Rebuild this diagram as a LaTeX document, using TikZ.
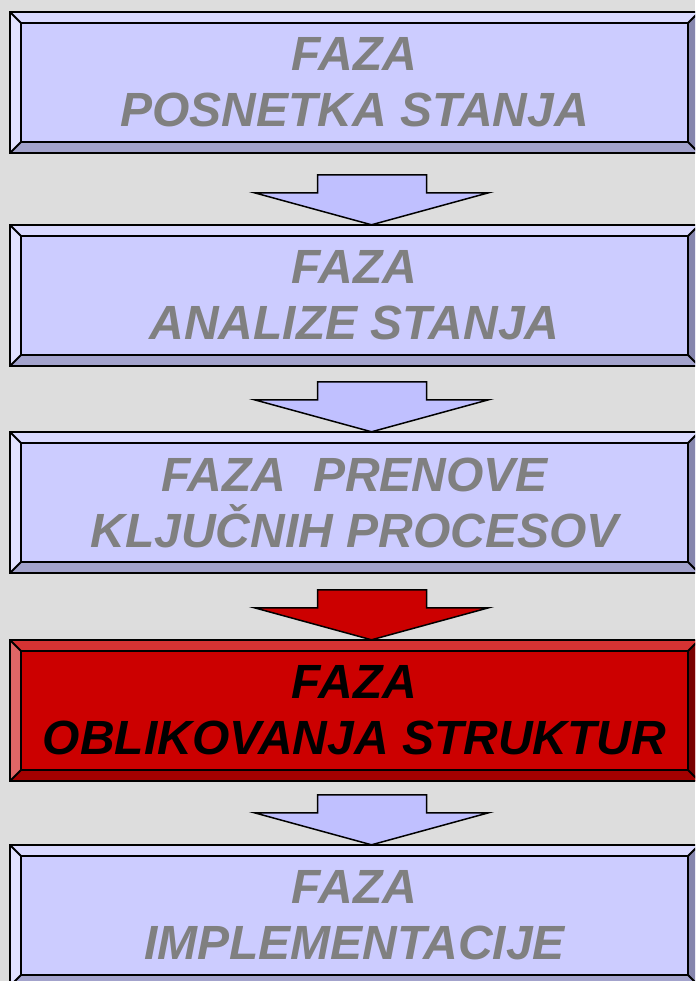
\documentclass[tikz,border=0pt]{standalone}
\usepackage{fontspec}
\setmainfont{Liberation Sans}

\definecolor{bg}{HTML}{DDDDDD}
\definecolor{phasetext}{HTML}{808080}
\definecolor{blueface}{HTML}{CCCCFF}
\definecolor{bluetop}{HTML}{DADAFF}
\definecolor{blueleft}{HTML}{E2E2FF}
\definecolor{bluebottom}{HTML}{A3A3CC}
\definecolor{blueright}{HTML}{8585AD}
\definecolor{bluearrow}{HTML}{C0C0FF}
\definecolor{redface}{HTML}{CC0000}
\definecolor{redtop}{HTML}{D63333}
\definecolor{redleft}{HTML}{E06666}
\definecolor{redbottom}{HTML}{A30000}
\definecolor{redright}{HTML}{7A0000}

\tikzset{
  phase/.style={minimum width=689pt, minimum height=141pt, inner sep=0pt, align=center,
    fill=blueface, text=phasetext, font=\fontsize{48}{56}\selectfont\bfseries\itshape},
  active/.style={phase, fill=redface, text=black},
}

% bevel round a phase box: node, top, left, bottom, right
\newcommand{\bevel}[5]{%
  \fill[#2] (#1.north west) -- (#1.north east) -- ([shift={(-11,-11)}]#1.north east) -- ([shift={(11,-11)}]#1.north west) -- cycle;
  \fill[#3] (#1.north west) -- ([shift={(11,-11)}]#1.north west) -- ([shift={(11,11)}]#1.south west) -- (#1.south west) -- cycle;
  \fill[#4] (#1.south west) -- ([shift={(11,11)}]#1.south west) -- ([shift={(-11,11)}]#1.south east) -- (#1.south east) -- cycle;
  \fill[#5] (#1.south east) -- ([shift={(-11,11)}]#1.south east) -- ([shift={(-11,-11)}]#1.north east) -- (#1.north east) -- cycle;
  \draw[line width=2] (#1.north west) rectangle (#1.south east);
  \draw[line width=2] ([shift={(11,-11)}]#1.north west) rectangle ([shift={(-11,11)}]#1.south east);
  \draw[line width=2] (#1.north west) -- ++(11,-11);
  \draw[line width=2] (#1.north east) -- ++(-11,-11);
  \draw[line width=2] (#1.south west) -- ++(11,11);
  \draw[line width=2] (#1.south east) -- ++(-11,11);
}

% block arrow ending on top of a phase box
\newcommand{\phasearrow}[2]{%
  \draw[line width=1.5, fill=#2] ([xshift=17]#1.north) -- ++(117,32) -- ++(-62,0) -- ++(0,18)
    -- ++(-109,0) -- ++(0,-18) -- ++(-63,0) -- cycle;
}

\begin{document}
\begin{tikzpicture}[x=1pt,y=1pt]
  \path[use as bounding box, fill=bg] (0,0) rectangle (695,-981);
  \clip (0,0) rectangle (695,-981);

  \node[phase] (posnetek) at (354.5,-82.5) {FAZA\\POSNETKA STANJA};
  \bevel{posnetek}{bluetop}{blueleft}{bluebottom}{blueright}

  \node[phase] (analiza) at (354.5,-295.5) {FAZA\\ANALIZE STANJA};
  \bevel{analiza}{bluetop}{blueleft}{bluebottom}{blueright}

  \node[phase] (prenova) at (354.5,-502.5) {FAZA\ \ PRENOVE\\KLJUČNIH PROCESOV};
  \bevel{prenova}{bluetop}{blueleft}{bluebottom}{blueright}

  \node[active] (strukture) at (354.5,-710.5) {FAZA\\OBLIKOVANJA STRUKTUR};
  \bevel{strukture}{redtop}{redleft}{redbottom}{redright}

  \node[phase] (implementacija) at (354.5,-915.5) {FAZA\\IMPLEMENTACIJE};
  \bevel{implementacija}{bluetop}{blueleft}{bluebottom}{blueright}

  \phasearrow{analiza}{bluearrow}
  \phasearrow{prenova}{bluearrow}
  \phasearrow{strukture}{redface}
  \phasearrow{implementacija}{bluearrow}
\end{tikzpicture}
\end{document}
